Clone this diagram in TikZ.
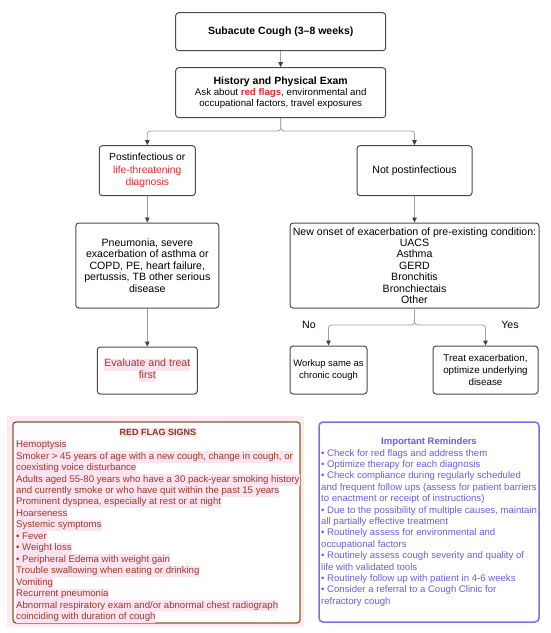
\documentclass[tikz,border=0pt]{standalone}
\usepackage{fontspec}
\setmainfont{Liberation Sans}
\usetikzlibrary{arrows.meta}

\definecolor{boxgray}{HTML}{4A4A4A}
\definecolor{linegray}{HTML}{A0A0A0}
\definecolor{tipdark}{HTML}{3B4252}
\definecolor{flagred}{HTML}{E8282B}
\definecolor{evalred}{HTML}{A83A2C}
\definecolor{hlpink}{HTML}{FCE3F0}
\definecolor{flagbg}{HTML}{FDE9F4}
\definecolor{flagbrown}{HTML}{8B5A2B}
\definecolor{flagtitle}{HTML}{7A3E1D}
\definecolor{flagtext}{HTML}{9E3A2A}
\definecolor{remindblue}{HTML}{6C5CE7}
\definecolor{remindedge}{HTML}{7B6CF0}

\newcommand{\hlt}[1]{{\setlength{\fboxsep}{0pt}\colorbox{hlpink}{\strut#1}}}

\begin{document}
\begin{tikzpicture}[x=1pt,y=-1pt,
  every node/.style={font=\fontsize{10.6}{11.4}\selectfont},
  box/.style={draw=boxgray,line width=1pt,rounded corners=3pt,fill=white,align=center,inner sep=2pt},
  link/.style={draw=linegray,line width=0.8pt,rounded corners=3pt,-{Triangle[length=5pt,width=4.5pt,color=tipdark]}}]
  \useasboundingbox (0,0) rectangle (550,633);
  % flowchart
  \node[box,minimum width=210pt,minimum height=38pt,font=\fontsize{10.5}{12}\selectfont\bfseries] (cough) at (280.7,31.7) {Subacute Cough (3--8 weeks)};
  \node[box,minimum width=210pt,minimum height=50pt,font=\fontsize{9.7}{11.2}\selectfont] (hist) at (280.7,92.7) {{\fontsize{10.5}{12}\selectfont\bfseries History and Physical Exam}\\Ask about {\color{flagred}\bfseries red flags}, environmental and\\occupational factors, travel exposures};
  \node[box,minimum width=96pt,minimum height=50pt,font=\fontsize{10.3}{12.4}\selectfont] (post) at (147.3,170.7) {Postinfectious or\\\textcolor{flagred}{life-threatening}\\\textcolor{flagred}{diagnosis}};
  \node[box,minimum width=115pt,minimum height=50pt] (notpost) at (414.5,170.7) {Not postinfectious};
  \node[box,minimum width=143pt,minimum height=85pt] (pneu) at (147.3,265.5) {Pneumonia, severe\\exacerbation of asthma or\\COPD, PE, heart failure,\\pertussis, TB other serious\\disease};
  \node[box,minimum width=100pt,minimum height=47pt,text=evalred,font=\fontsize{10.6}{11.8}\selectfont] (evalt) at (147.3,370.5) {\hlt{Evaluate and treat}\\\hlt{first}};
  \node[box,minimum width=249pt,minimum height=85pt] (onset) at (414.5,265.5) {New onset of exacerbation of pre-existing condition:\\UACS\\Asthma\\GERD\\Bronchitis\\Bronchiectais\\Other};
  \node[box,minimum width=77pt,minimum height=48pt,font=\fontsize{9.4}{11.6}\selectfont] (workup) at (328.5,370) {Workup same as\\chronic cough};
  \node[box,minimum width=105pt,minimum height=48pt,font=\fontsize{9.8}{11.6}\selectfont] (treat) at (485.5,370) {Treat exacerbation,\\optimize underlying\\disease};
  \node (nolbl) at (309,325) {No};
  \node (yeslbl) at (510,325) {Yes};

  \coordinate (split) at (280.7,131);
  \coordinate (split2) at (414.5,325);
  \draw[link] (cough) -- (hist);
  \draw[link] (hist.south) -- (split) -| (post.north);
  \draw[link] (hist.south) -- (split) -| (notpost.north);
  \draw[link] (post) -- (pneu);
  \draw[link] (pneu) -- (evalt);
  \draw[link] (notpost) -- (onset);
  \draw[link] (onset.south) -- (split2) -| (workup.north);
  \draw[link] (onset.south) -- (split2) -| (treat.north);

  % red flags
  \node[fill=flagbg,minimum width=297pt,minimum height=211pt,inner sep=0] (flagbg) at (155.5,521.5) {};
  \node[draw=flagbrown,line width=1.3pt,fill=white,rounded corners=3pt,minimum width=287pt,minimum height=201pt,inner sep=0] (flags) at (156.5,522.5) {};
  \node[font=\fontsize{9}{11}\selectfont\bfseries,text=flagtitle,fill=hlpink,inner sep=1pt] (flaghead) at (158,432.5) {RED FLAG SIGNS};
  \node[anchor=north west,inner sep=0,align=left,text=flagtext,font=\fontsize{9.6}{11.45}\selectfont] (flaglist) at (16,439.5) {%
    \hlt{Hemoptysis}\\
    \hlt{Smoker > 45 years of age with a new cough, change in cough, or}\\
    \hlt{coexisting voice disturbance}\\
    \hlt{Adults aged 55-80 years who have a 30 pack-year smoking history}\\
    \hlt{and currently smoke or who have quit within the past 15 years}\\
    \hlt{Prominent dyspnea, especially at rest or at night}\\
    \hlt{Hoarseness}\\
    \hlt{Systemic symptoms}\\
    \hlt{• Fever}\\
    \hlt{• Weight loss}\\
    \hlt{• Peripheral Edema with weight gain}\\
    \hlt{Trouble swallowing when eating or drinking}\\
    \hlt{Vomiting}\\
    \hlt{Recurrent pneumonia}\\
    \hlt{Abnormal respiratory exam and/or abnormal chest radiograph}\\
    \hlt{coinciding with duration of cough}};

  % reminders
  \node[draw=remindedge,line width=1.5pt,fill=white,rounded corners=4pt,minimum width=220pt,minimum height=200pt,inner sep=0] (remind) at (429,522) {};
  \node[font=\fontsize{9.5}{11}\selectfont\bfseries,text=remindblue] (remindhead) at (429,442) {Important Reminders};
  \node[anchor=north west,inner sep=0,align=left,text=remindblue,font=\fontsize{9.6}{11.4}\selectfont] (remindlist) at (321,448) {%
    \strut• Check for red flags and address them\\
    • Optimize therapy for each diagnosis\\
    • Check compliance during regularly scheduled\\
    and frequent follow ups (assess for patient barriers\\
    to enactment or receipt of instructions)\\
    • Due to the possibility of multiple causes, maintain\\
    all partially effective treatment\\
    • Routinely assess for environmental and\\
    occupational factors\\
    • Routinely assess cough severity and quality of\\
    life with validated tools\\
    • Routinely follow up with patient in 4-6 weeks\\
    • Consider a referral to a Cough Clinic for\\
    refractory cough};
\end{tikzpicture}
\end{document}
